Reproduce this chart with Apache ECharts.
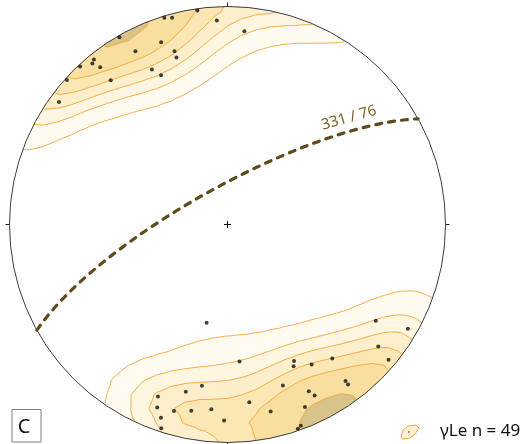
<!DOCTYPE html>
<html>
<head>
<meta charset="utf-8">
<script src="https://cdn.jsdelivr.net/npm/echarts@6/dist/echarts.min.js"></script>
<style>
html, body { margin: 0; padding: 0; background: #fff; }
#chart { width: 526px; height: 444px; }
</style>
</head>
<body>
<div id="chart"></div>
<script>
// Lineations, lower hemisphere: trend / plunge in degrees
const lineationTrend = [
  352, 343, 345, 357, 5, 330, 340, 332, 343, 343,
  321, 320, 317, 321, 334, 336, 312, 321, 306,
  192, 175, 189, 194, 202, 201, 196, 191, 185, 173,
  199, 181, 198, 123, 120, 129, 130, 154, 155, 149,
  142, 143, 143, 161, 154, 153, 167, 157, 160, 161
];
const lineationPlunge = [
  1, 1, 2, 7, 12, 1, 12, 11, 18, 21,
  3, 4, 1, 8, 22, 26, 1, 16, 5,
  52, 37, 26, 22, 16, 11, 12, 14, 16, 19,
  7, 11, 2, 20, 5, 12, 4, 31, 29, 26,
  23, 11, 9, 23, 16, 13, 13, 10, 2, 1
];
// Mean plane: dip direction / dip
const planeDipDir = [331];
const planeDip = [76];
const sampleLabel = 'C';
const seriesName = 'γLe';
// Density contour levels (multiples of uniform density)
const contourLevels = [1, 1.9, 2.7, 3.5, 4.3, 5.45];
const contourFills = ['#fffbf0', '#fef6e0', '#fdefcb', '#fbe7b3', '#f9df9f', '#d8c488'];

const D2R = Math.PI / 180;
function toVec(trend, plunge) {
  const t = trend * D2R, p = plunge * D2R;
  return [Math.cos(p) * Math.sin(t), Math.cos(p) * Math.cos(t), Math.sin(p)];
}
// Equal-area (Schmidt) projection, unit primitive
function project(trend, plunge) {
  const r = Math.SQRT2 * Math.sin((90 - plunge) * D2R / 2);
  return [r * Math.sin(trend * D2R), r * Math.cos(trend * D2R)];
}
function projectVec(v) {
  let [e, n, d] = v;
  if (d < 0) { e = -e; n = -n; d = -d; }
  const plunge = Math.asin(Math.min(1, d)) / D2R;
  const trend = Math.atan2(e, n) / D2R;
  return project(trend, plunge);
}
function unproject(x, y) {
  let r = Math.hypot(x, y);
  if (r > 1) { x /= r; y /= r; r = 1; }
  const plunge = 90 - 2 * Math.asin(r / Math.SQRT2) / D2R;
  return toVec(Math.atan2(x, y) / D2R, plunge);
}

// Exponential Kamb density (axial data)
const vecs = lineationTrend.map((t, i) => toVec(t, lineationPlunge[i]));
const K = 20;
const uniform = vecs.length * (1 - Math.exp(-K)) / K;
function density(v) {
  let s = 0;
  for (const u of vecs) {
    const c = Math.abs(u[0] * v[0] + u[1] * v[1] + u[2] * v[2]);
    s += Math.exp(K * (c - 1));
  }
  return s / uniform;
}

const NG = 32, EXT = 1.04;
const nodes = [], nodeVal = [];
for (let j = 0; j <= NG; j++) {
  for (let i = 0; i <= NG; i++) {
    const x = -EXT + 2 * EXT * i / NG, y = -EXT + 2 * EXT * j / NG;
    nodes.push([x, y]);
    nodeVal.push(density(unproject(x, y)));
  }
}
const triangles = [];
for (let j = 0; j < NG; j++) {
  for (let i = 0; i < NG; i++) {
    const a = j * (NG + 1) + i, b = a + 1, c = a + NG + 2, d = a + NG + 1;
    triangles.push([a, b, c], [a, c, d]);
  }
}

function clipTri(pts, vs, lv) {
  const out = [];
  for (let k = 0; k < 3; k++) {
    const a = pts[k], b = pts[(k + 1) % 3];
    const fa = vs[k] - lv, fb = vs[(k + 1) % 3] - lv;
    if (fa >= 0) out.push(a);
    if ((fa >= 0) !== (fb >= 0)) {
      const t = fa / (fa - fb);
      out.push([a[0] + t * (b[0] - a[0]), a[1] + t * (b[1] - a[1])]);
    }
  }
  return out;
}
function isoSegment(pts, vs, lv) {
  const out = [];
  for (let k = 0; k < 3; k++) {
    const a = pts[k], b = pts[(k + 1) % 3];
    const fa = vs[k] - lv, fb = vs[(k + 1) % 3] - lv;
    if ((fa >= 0) !== (fb >= 0)) {
      const t = fa / (fa - fb);
      out.push([a[0] + t * (b[0] - a[0]), a[1] + t * (b[1] - a[1])]);
    }
  }
  return out.length === 2 ? out : null;
}
const f1 = (p) => p[0].toFixed(2) + ' ' + p[1].toFixed(2);

// Great circle of the mean plane
const dd = planeDipDir[0], dip = planeDip[0];
const strikeV = toVec(dd - 90, 0);
const dipV = toVec(dd, dip);
const greatCircle = [];
for (let a = 0; a <= 180; a += 2) {
  const c = Math.cos(a * D2R), s = Math.sin(a * D2R);
  greatCircle.push(projectVec([c * strikeV[0] + s * dipV[0], c * strikeV[1] + s * dipV[1], c * strikeV[2] + s * dipV[2]]));
}
const lineationPoints = lineationTrend.map((t, i) => project(t, lineationPlunge[i]));

function renderNet(params, api) {
  const P = nodes.map(p => api.coord(p));
  const ctr = api.coord([0, 0]);
  const R = api.coord([1, 0])[0] - ctr[0];
  const children = [];
  contourLevels.forEach((lv, li) => {
    let d = '';
    for (const tri of triangles) {
      const vs = tri.map(k => nodeVal[k]);
      if (vs[0] < lv && vs[1] < lv && vs[2] < lv) continue;
      const poly = clipTri(tri.map(k => P[k]), vs, lv);
      if (poly.length >= 3) d += 'M' + poly.map(f1).join('L') + 'Z';
    }
    if (d) children.push({ type: 'path', shape: { pathData: d }, style: { fill: contourFills[li], stroke: null } });
  });
  contourLevels.forEach((lv) => {
    let d = '';
    for (const tri of triangles) {
      const seg = isoSegment(tri.map(k => P[k]), tri.map(k => nodeVal[k]), lv);
      if (seg) d += 'M' + f1(seg[0]) + 'L' + f1(seg[1]);
    }
    if (d) children.push({ type: 'path', shape: { pathData: d }, style: { fill: null, stroke: '#f4a53c', lineWidth: 0.9, lineJoin: 'round' } });
  });
  // white mask outside the primitive
  const pad = 40;
  let m = 'M' + (ctr[0] - R - pad) + ' ' + (ctr[1] - R - pad) + 'L' + (ctr[0] + R + pad) + ' ' + (ctr[1] - R - pad) +
    'L' + (ctr[0] + R + pad) + ' ' + (ctr[1] + R + pad) + 'L' + (ctr[0] - R - pad) + ' ' + (ctr[1] + R + pad) + 'Z';
  const segs = 240;
  for (let k = 0; k <= segs; k++) {
    const a = -2 * Math.PI * k / segs;
    m += (k === 0 ? 'M' : 'L') + (ctr[0] + R * Math.cos(a)).toFixed(2) + ' ' + (ctr[1] + R * Math.sin(a)).toFixed(2);
  }
  m += 'Z';
  children.push({ type: 'path', shape: { pathData: m }, style: { fill: '#fff', stroke: null } });
  // primitive circle, ticks and centre cross
  children.push({ type: 'circle', shape: { cx: ctr[0], cy: ctr[1], r: R }, style: { fill: null, stroke: '#3c3c3c', lineWidth: 1 } });
  const tk = 4;
  [[0, -1], [1, 0], [0, 1], [-1, 0]].forEach(([ux, uy]) => {
    children.push({ type: 'line', shape: { x1: ctr[0] + ux * R, y1: ctr[1] + uy * R, x2: ctr[0] + ux * (R + tk), y2: ctr[1] + uy * (R + tk) }, style: { stroke: '#222', lineWidth: 1 } });
  });
  children.push({ type: 'line', shape: { x1: ctr[0] - 3.5, y1: ctr[1], x2: ctr[0] + 3.5, y2: ctr[1] }, style: { stroke: '#111', lineWidth: 1 } });
  children.push({ type: 'line', shape: { x1: ctr[0], y1: ctr[1] - 3.5, x2: ctr[0], y2: ctr[1] + 3.5 }, style: { stroke: '#111', lineWidth: 1 } });
  // plane label along the great circle, near its north-east end
  const ia = 75;
  const pA = api.coord(greatCircle[ia - 1]), pB = api.coord(greatCircle[ia + 1]);
  const ang = Math.atan2(pB[1] - pA[1], pB[0] - pA[0]);
  const mid = api.coord(greatCircle[ia]);
  const nx = Math.sin(ang), ny = -Math.cos(ang);
  children.push({
    type: 'text', x: mid[0] + nx * 13, y: mid[1] + ny * 13, rotation: -ang,
    style: { text: planeDipDir[0] + ' / ' + planeDip[0], fill: '#7a6425', font: '15px "Noto Sans", sans-serif', align: 'center', verticalAlign: 'middle' }
  });
  return { type: 'group', children };
}

const chart = echarts.init(document.getElementById('chart'), null, { renderer: 'canvas' });
chart.setOption({
  animation: false,
  grid: { left: 9.5, top: 6.5, width: 436, height: 436 },
  xAxis: { type: 'value', min: -1, max: 1, show: false },
  yAxis: { type: 'value', min: -1, max: 1, show: false },
  series: [
    { type: 'custom', z: 1, silent: true, clip: false, data: [0], renderItem: renderNet },
    {
      type: 'line', z: 3, silent: true, data: greatCircle, showSymbol: false, smooth: false,
      lineStyle: { color: '#5e4b1c', width: 3.2, type: [6, 7], cap: 'round' }
    },
    {
      type: 'scatter', z: 4, silent: true, name: seriesName, data: lineationPoints,
      symbol: 'circle', symbolSize: 4, itemStyle: { color: '#111' }
    }
  ],
  graphic: [
    { type: 'rect', shape: { x: 12, y: 409.5, width: 29, height: 32.5 }, style: { fill: '#fff', stroke: '#808080', lineWidth: 1 }, z: 10 },
    { type: 'text', x: 24, y: 427, style: { text: sampleLabel, fill: '#111', font: '20px "Noto Sans", sans-serif', align: 'center', verticalAlign: 'middle' }, z: 11 },
    { type: 'polygon', shape: { points: [[401, 437], [403, 430], [408, 426], [416, 425], [419, 428], [415, 434], [410, 438], [403, 439]] }, style: { fill: '#fdf2d4', stroke: '#f2a33a', lineWidth: 1 }, z: 10 },
    { type: 'circle', shape: { cx: 409, cy: 432, r: 0.8 }, style: { fill: '#333' }, z: 11 },
    { type: 'text', x: 440, y: 431, style: { text: seriesName + ' n = ' + lineationTrend.length, fill: '#111', font: '17px "Noto Sans", sans-serif', align: 'left', verticalAlign: 'middle' }, z: 11 }
  ]
});
</script>
</body>
</html>
